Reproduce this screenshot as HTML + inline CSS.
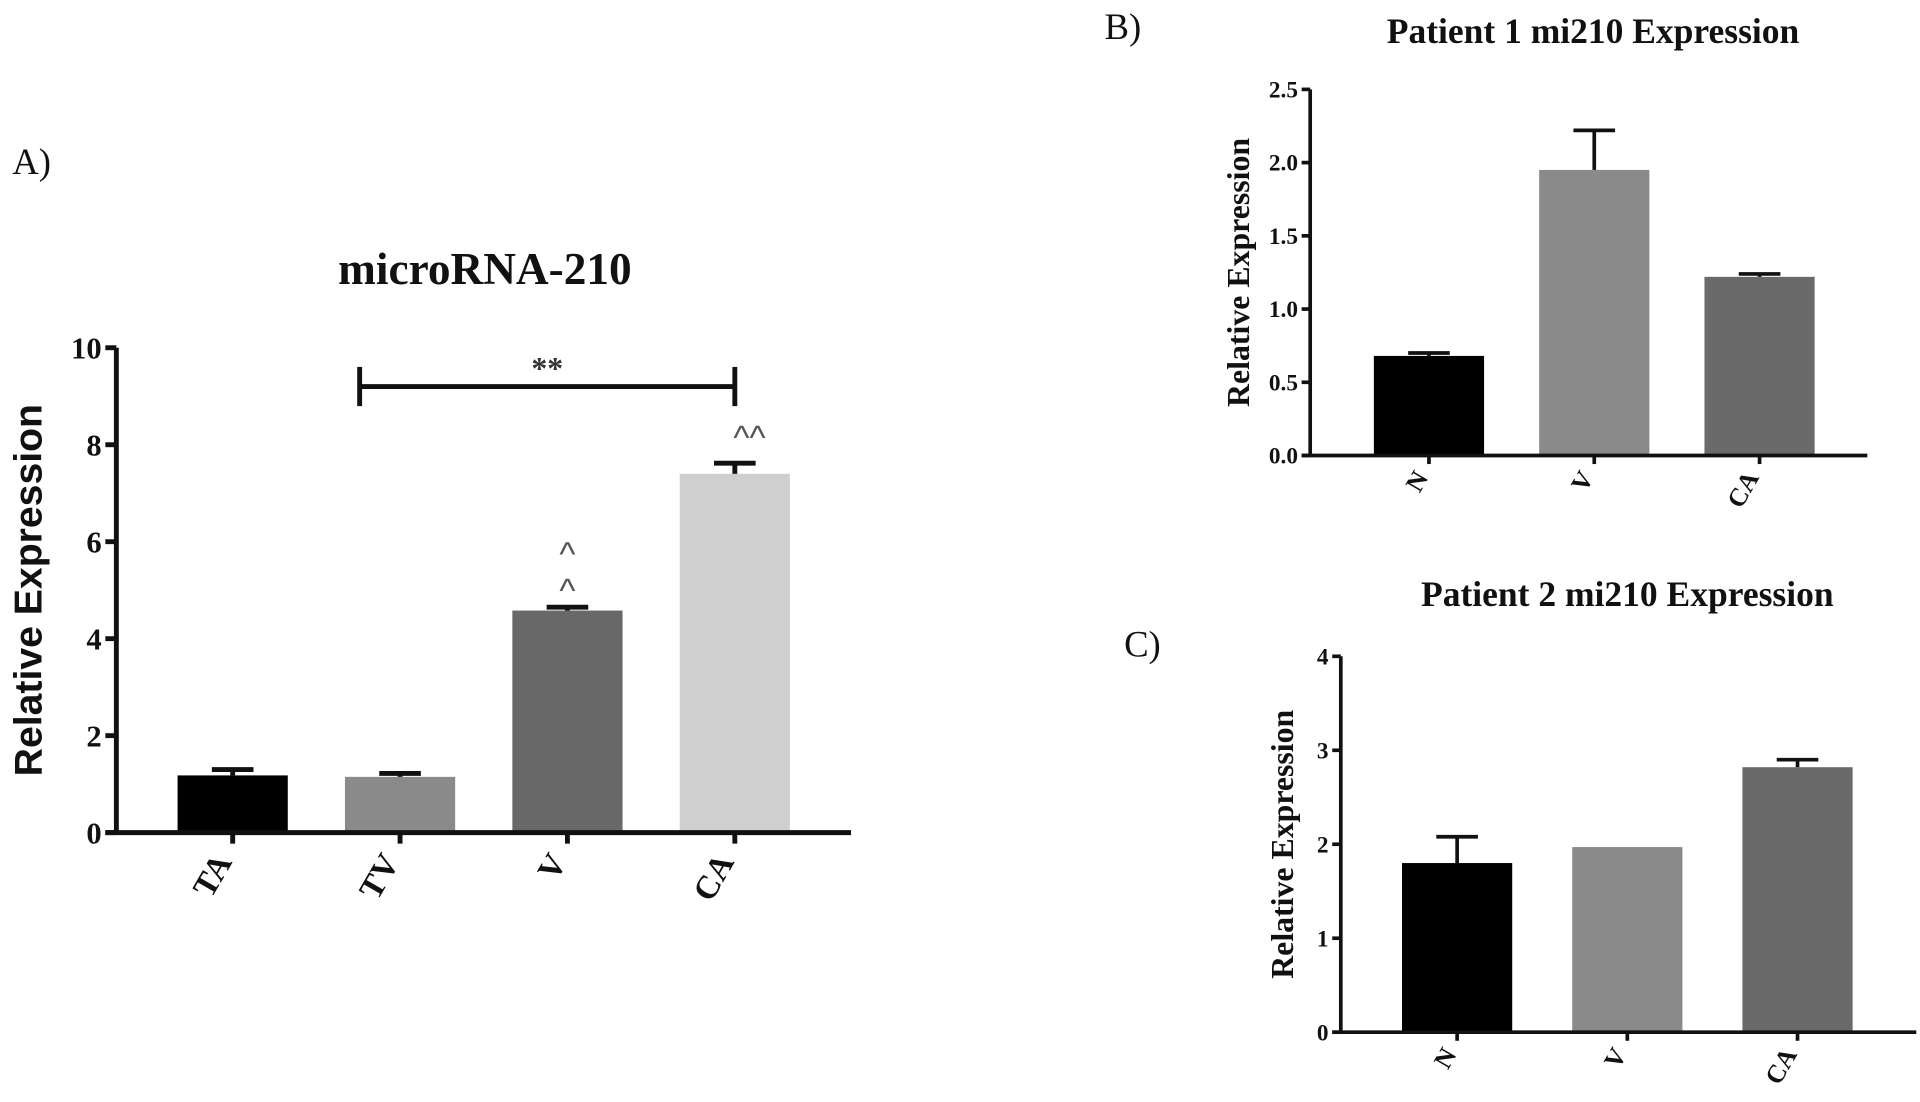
<!DOCTYPE html>
<html><head><meta charset="utf-8"><style>
html,body{margin:0;padding:0;background:#fff;}
svg{display:block;}
.tk{font-family:"Liberation Serif",serif;font-weight:bold;fill:#111;}
</style></head><body>
<svg id="fig" width="1920" height="1102" viewBox="0 0 1568 900" xmlns="http://www.w3.org/2000/svg"></svg>
<script>
// Panel A data
const catsA = ["TA","TV","V","CA"];
const valsA = [1.18, 1.15, 4.58, 7.4];
const errA = [0.12, 0.07, 0.07, 0.22];
const ticksA = [0,2,4,6,8,10];
// Panel B data
const catsB = ["N","V","CA"];
const valsB = [0.68, 1.95, 1.22];
const errB = [0.02, 0.27, 0.02];
const ticksB = ["0.0","0.5","1.0","1.5","2.0","2.5"];
// Panel C data
const catsC = ["N","V","CA"];
const valsC = [1.8, 1.97, 2.82];
const errC = [0.28, 0, 0.08];
const ticksC = [0,1,2,3,4];

const svg = document.getElementById('fig');
const NS = "http://www.w3.org/2000/svg";
function mk(tag, attrs, parent){
  const e = document.createElementNS(NS, tag);
  for (const k in attrs) e.setAttribute(k, attrs[k]);
  (parent||svg).appendChild(e); return e;
}
function txt(s, attrs, parent){ const t = mk('text', attrs, parent); t.textContent = s; return t; }

function panel(cfg){
  const g = mk('g', {});
  
  
  const y = v => cfg.y0 - (v - 0) / cfg.max * (cfg.y0 - cfg.yTop);
  const x = i => cfg.x0 + cfg.first + i * cfg.step;
  cfg.vals.forEach((v,i)=>{
    const bx = x(i) - cfg.bw/2;
    const r = mk('rect', {x:bx, y:y(v), width:cfg.bw, height:cfg.y0 - y(v), fill:cfg.colors[i]}, g);
    
    
    const e = cfg.errs[i];
    if (e > 0) {
      const eg = mk('g', {stroke:'#111','stroke-width':cfg.ew}, g);
      
      
      mk('line', {x1:x(i), x2:x(i), y1:y(v), y2:y(v+e)}, eg);
      mk('line', {x1:x(i)-cfg.cap, x2:x(i)+cfg.cap, y1:y(v+e), y2:y(v+e)}, eg);
    }
    mk('line', {x1:x(i), x2:x(i), y1:cfg.y0, y2:cfg.y0+cfg.tl, stroke:'#111','stroke-width':cfg.aw}, g);
    const lx = x(i), ly = cfg.y0 + cfg.labOff;
    const l = txt(cfg.cats[i], {x:lx, y:ly, class:'tk','font-size':cfg.fs+2,'text-anchor':'end',
      transform:`rotate(-60 ${lx} ${ly})`}, g);
    
    
  });
  const ax = mk('line', {x1:cfg.x0, x2:cfg.x0, y1:cfg.yTop, y2:cfg.y0, stroke:'#111','stroke-width':cfg.aw}, g);
  
  
  const xa = mk('line', {x1:cfg.x0 - cfg.tl, x2:cfg.xEnd, y1:cfg.y0, y2:cfg.y0, stroke:'#111','stroke-width':cfg.aw}, g);
  
  
  cfg.ticks.forEach(t=>{
    const v = parseFloat(t);
    mk('line', {x1:cfg.x0 - cfg.tl, x2:cfg.x0, y1:y(v), y2:y(v), stroke:'#111','stroke-width':cfg.aw}, g);
    const tl = txt(String(t), {x:cfg.x0 - cfg.tl - 3, y:y(v) + cfg.fs*0.35, class:'tk','font-size':cfg.fs,'text-anchor':'end'}, g);
    
    
  });
  const yt = txt('Relative Expression', {x:cfg.ylx, y:(cfg.y0+cfg.yTop)/2, 'font-size':cfg.yfs,
    'font-family':cfg.ySans ? '"Liberation Sans",sans-serif' : '"Liberation Serif",serif','font-weight':'bold',
    'text-anchor':'middle', fill:'#111', transform:`rotate(-90 ${cfg.ylx} ${(cfg.y0+cfg.yTop)/2})`}, g);
  
  
  const tt = txt(cfg.title, {x:cfg.tx, y:cfg.ty, 'font-size':cfg.tfs,'font-family':'"Liberation Serif",serif','font-weight':'bold','text-anchor':'middle',fill:'#111'}, g);
  
  
  const pl = txt(cfg.plabel, {x:cfg.px, y:cfg.py, 'font-size':30,'font-family':'"Liberation Serif",serif',fill:'#111'}, g);
  
  
  return {g, x, y};
}

const A = panel({name:'panel-a', cats:catsA, vals:valsA, errs:errA, ticks:ticksA, max:10,
  x0:95, y0:680, yTop:284, xEnd:695, first:95, step:136.7, bw:90, cap:17, ew:4, aw:4, tl:9,
  colors:['#000','#8a8a8a','#686868','#cfcfcf'], fs:25, labOff:24,
  ylx:34, yfs:32, ySans:true, title:'microRNA-210', tx:396, ty:232, tfs:37, plabel:'A)', px:10, py:142});
(function(){
  const g = mk('g', {stroke:'#111','stroke-width':4});
  
  
  const yb = A.y(9.2);
  mk('line', {x1:A.x(1)-33, x2:A.x(3), y1:yb, y2:yb}, g);
  mk('line', {x1:A.x(1)-33, x2:A.x(1)-33, y1:yb-16, y2:yb+16}, g);
  mk('line', {x1:A.x(3), x2:A.x(3), y1:yb-16, y2:yb+16}, g);
  const s = txt('**', {x:(A.x(1)-33+A.x(3))/2, y:yb-6, 'font-size':26,'font-family':'"Liberation Serif",serif','font-weight':'bold','text-anchor':'middle',fill:'#333'});
  
  
  [[2,5.5,'^'],[2,4.75,'^'],[3,7.9,'^^']].forEach(a=>{
    const c = txt(a[2], {x:A.x(a[0]) + (a[2].length>1?12:0), y:A.y(a[1]), 'font-size':28,'font-family':'"Liberation Sans",sans-serif','text-anchor':'middle',fill:'#555'});
    
    
  });
})();

panel({name:'panel-b', cats:catsB, vals:valsB, errs:errB, ticks:ticksB, max:2.5,
  x0:1070, y0:372, yTop:73, xEnd:1525, first:97, step:135, bw:90, cap:17, ew:3, aw:3, tl:7,
  colors:['#000','#8a8a8a','#6a6a6a'], fs:19, labOff:18,
  ylx:1020, yfs:26, ySans:false, title:'Patient 1 mi210 Expression', tx:1301, ty:35, tfs:29, plabel:'B)', px:902, py:32});

panel({name:'panel-c', cats:catsC, vals:valsC, errs:errC, ticks:ticksC, max:4,
  x0:1095, y0:843, yTop:536, xEnd:1565, first:95, step:139, bw:90, cap:17, ew:3, aw:3, tl:7,
  colors:['#000','#8a8a8a','#6a6a6a'], fs:19, labOff:18,
  ylx:1056, yfs:26, ySans:false, title:'Patient 2 mi210 Expression', tx:1329, ty:495, tfs:29, plabel:'C)', px:918, py:536});
</script>
</body></html>
